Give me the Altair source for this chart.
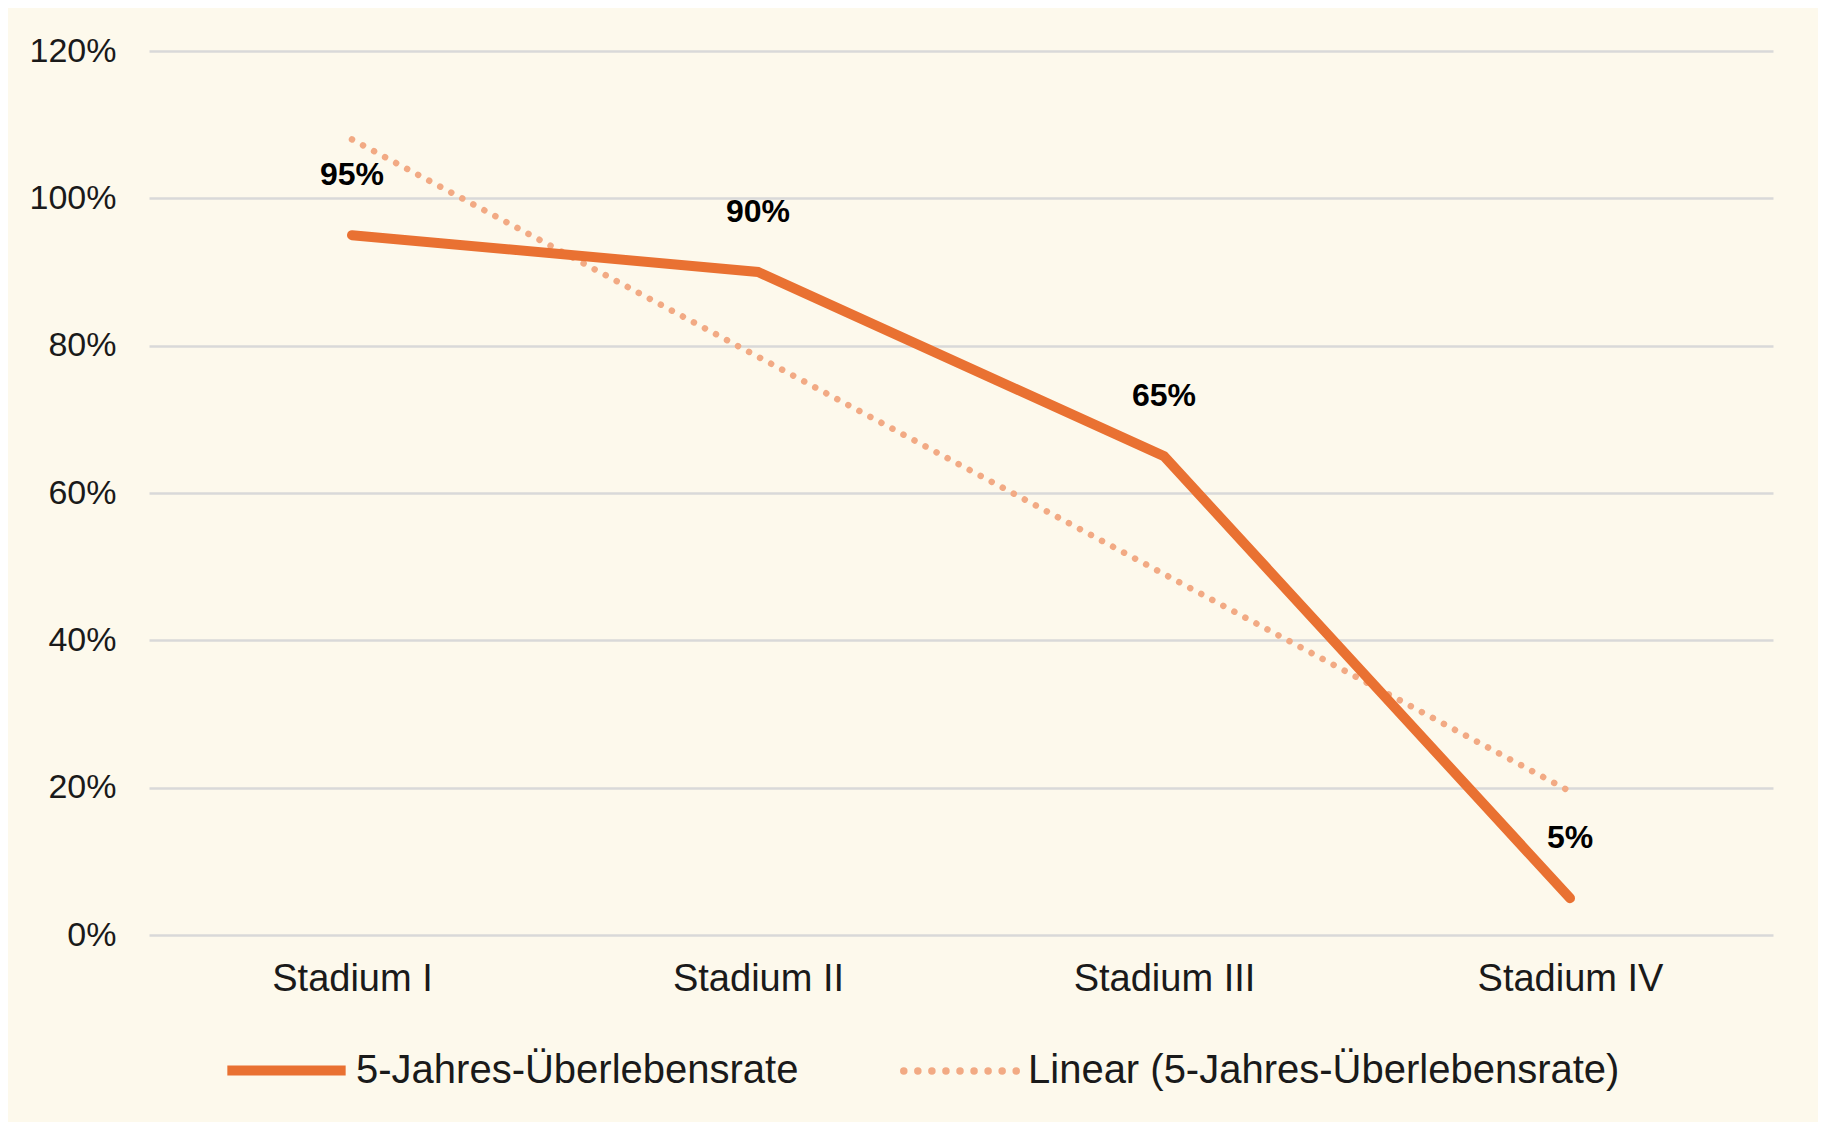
import altair as alt
import pandas as pd

stages = ["Stadium I", "Stadium II", "Stadium III", "Stadium IV"]
stage_index = [1, 2, 3, 4]
survival = [95, 90, 65, 5]
series_main = "5-Jahres-Überlebensrate"
series_trend = "Linear (5-Jahres-Überlebensrate)"
y_ticks = [0, 20, 40, 60, 80, 100, 120]

df = pd.DataFrame({"idx": stage_index, "stage": stages, "value": survival,
                   "series": series_main})

FONT = "Liberation Sans"
ORANGE = "#E97132"
LIGHT = "#F2AA84"

label_expr = "[" + ",".join(f"'{s}'" for s in stages) + "][datum.value - 1]"


# dotted legend symbol (style only): row of small discs in the -1..1 box,
# each disc drawn as concentric rings so it looks solid even when unfilled
def ring(cx, r):
    return (f"M{cx - r:.4f},0a{r:.4f},{r:.4f} 0 1,0 {2 * r:.4f},0"
            f"a{r:.4f},{r:.4f} 0 1,0 {-2 * r:.4f},0")


dot_centers = [-0.95 + 0.2375 * i for i in range(9)]
dot_path = "".join(ring(c, r) for c in dot_centers for r in (0.05, 0.037, 0.024, 0.011))

x = alt.X("idx:Q", scale=alt.Scale(domain=[0.5, 4.5], nice=False, zero=False),
          axis=alt.Axis(values=stage_index, labelExpr=label_expr, title=None,
                        grid=False, ticks=False, domain=False, labelFontSize=38,
                        labelFont=FONT, labelColor="#1a1a1a", labelPadding=25,
                        labelLimit=600))
y = alt.Y("value:Q", scale=alt.Scale(domain=[0, 120], nice=False),
          axis=alt.Axis(values=y_ticks, labelExpr="datum.value + '%'", title=None,
                        grid=True, gridColor="#D9D9D9", gridWidth=2.5,
                        ticks=False, domain=False, labelFontSize=34, labelFont=FONT,
                        labelColor="#1a1a1a", labelPadding=33))

color = alt.Color("series:N",
                  scale=alt.Scale(domain=[series_main], range=[ORANGE]),
                  legend=alt.Legend(title=None, orient="none", direction="horizontal",
                                    legendX=73, legendY=955,
                                    symbolType="stroke", symbolSize=14000,
                                    symbolStrokeWidth=10,
                                    labelFontSize=40, labelFont=FONT, labelColor="#1a1a1a",
                                    labelOffset=5, labelLimit=900))

trend_legend = alt.Opacity("series:N",
                           scale=alt.Scale(domain=[series_trend], range=[1]),
                           legend=alt.Legend(title=None, orient="none", direction="horizontal",
                                             legendX=751, legendY=960,
                                             symbolType=dot_path, symbolSize=14000,
                                             symbolStrokeColor=LIGHT, symbolStrokeWidth=1.6,
                                             symbolFillColor=LIGHT,
                                             labelFontSize=40, labelFont=FONT,
                                             labelColor="#1a1a1a",
                                             labelOffset=8, labelLimit=900))

trend = alt.Chart(df).transform_regression("idx", "value").transform_calculate(
    series=f"'{series_trend}'"
).mark_line(strokeCap="round", color=LIGHT, strokeWidth=6.5,
            strokeDash=[0.01, 12.5]).encode(x=x, y=y, opacity=trend_legend)

line = alt.Chart(df).mark_line(strokeCap="round", strokeJoin="miter", strokeWidth=10).encode(
    x=x, y=y, color=color)

labels = alt.Chart(df).mark_text(dy=-60, fontSize=32, fontWeight="bold", font=FONT,
                                 color="#000000", baseline="middle").encode(
    x=x, y=y, text=alt.Text("label:N")).transform_calculate(label="datum.value + '%'")

chart = alt.layer(trend, line, labels).properties(
    width=1624, height=884,
    background="#FDF9EC",
    autosize=alt.AutoSizeParams(type="none"),
    padding={"left": 141, "top": 43, "right": 45, "bottom": 187},
).configure_view(stroke=None)

chart.save("out.html", embed_options={"renderer": "svg", "actions": False})
